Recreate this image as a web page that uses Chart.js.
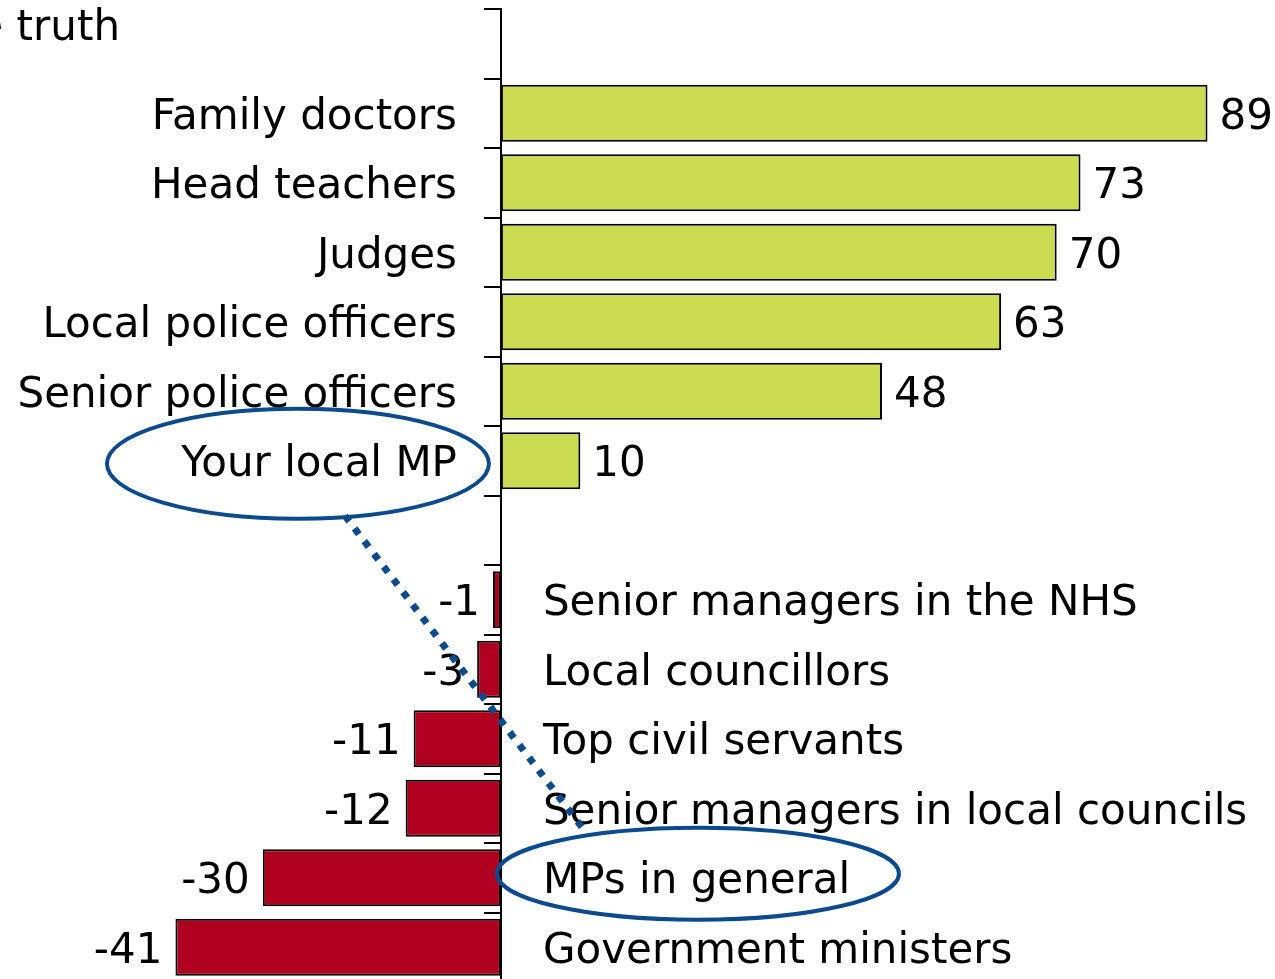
<!DOCTYPE html>
<html>
<head>
<meta charset="utf-8">
<script src="https://cdn.jsdelivr.net/npm/chart.js@4.4.0/dist/chart.umd.min.js"></script>
<style>
  html, body { margin: 0; padding: 0; background: #ffffff; overflow: hidden; }
  #wrap { width: 1275px; height: 990px; position: relative; }
</style>
</head>
<body>
<div id="wrap"><canvas id="c" width="1275" height="990"></canvas></div>
<script>
// ---- data ----
const titleText = "Trust them to tell the truth";
const categories = [
  "",
  "Family doctors",
  "Head teachers",
  "Judges",
  "Local police officers",
  "Senior police officers",
  "Your local MP",
  "",
  "Senior managers in the NHS",
  "Local councillors",
  "Top civil servants",
  "Senior managers in local councils",
  "MPs in general",
  "Government ministers"
];
const netTrust = [null, 89, 73, 70, 63, 48, 10, null, -1, -3, -11, -12, -30, -41];
const highlighted = ["Your local MP", "MPs in general"];

const GREEN = "#CBDC52";
const RED = "#B00020";
const BLUE = "#0B4A8E";
const FONT = "42px 'DejaVu Sans', Verdana, sans-serif";

const labelPlugin = {
  id: "labels",
  afterDatasetsDraw(chart) {
    const ctx = chart.ctx;
    const x = chart.scales.x, y = chart.scales.y;
    const x0 = x.getPixelForValue(0);
    ctx.save();
    ctx.font = FONT;
    ctx.fillStyle = "#000";
    ctx.textBaseline = "alphabetic";
    const cap = 15.5;
    categories.forEach((cat, i) => {
      const v = netTrust[i];
      const yc = y.getPixelForValue(i);
      if (v === null) return;
      const xe = x.getPixelForValue(v);
      if (v >= 0) {
        ctx.textAlign = "right";
        ctx.fillText(cat, x0 - 44, yc + cap);
        ctx.textAlign = "left";
        ctx.fillText(String(v), xe + 12, yc + cap);
      } else {
        ctx.textAlign = "left";
        ctx.fillText(cat, x0 + 42, yc + cap);
        ctx.textAlign = "right";
        ctx.fillText(String(v), xe - 13, yc + cap);
      }
    });
    // title (partly outside the visible area)
    ctx.textAlign = "right";
    ctx.fillText(titleText, 120, 40);
    ctx.restore();
  },
  afterDraw(chart) {
    const ctx = chart.ctx;
    const x = chart.scales.x, y = chart.scales.y;
    const x0 = x.getPixelForValue(0);
    const i1 = categories.indexOf(highlighted[0]);
    const i2 = categories.indexOf(highlighted[1]);
    const y1 = y.getPixelForValue(i1) + 3;
    const y2 = y.getPixelForValue(i2) - 4;
    const c1x = x0 - 203, c2x = x0 + 197;
    ctx.save();
    ctx.strokeStyle = BLUE;
    ctx.lineWidth = 4;
    ctx.beginPath();
    ctx.ellipse(c1x, y1, 191, 55, 0, 0, Math.PI * 2);
    ctx.stroke();
    ctx.beginPath();
    ctx.ellipse(c2x, y2, 201, 46, 0, 0, Math.PI * 2);
    ctx.stroke();
    // dotted connector
    ctx.lineWidth = 7;
    ctx.setLineDash([7, 9]);
    ctx.lineCap = "butt";
    ctx.beginPath();
    ctx.moveTo(c1x + 47, y1 + 52);
    ctx.lineTo(c2x - 111, y2 - 40);
    ctx.stroke();
    ctx.restore();
  }
};

new Chart(document.getElementById("c"), {
  type: "bar",
  data: {
    labels: categories,
    datasets: [{
      data: netTrust,
      backgroundColor: netTrust.map(v => (v !== null && v < 0) ? RED : GREEN),
      borderColor: "#000",
      borderWidth: 2,
      borderSkipped: false,
      barPercentage: 0.82,
      categoryPercentage: 1.0
    }]
  },
  options: {
    indexAxis: "y",
    responsive: false,
    animation: false,
    events: [],
    layout: { padding: { top: 9, bottom: 8, left: 0, right: 0 } },
    plugins: { legend: { display: false }, tooltip: { enabled: false } },
    scales: {
      x: { display: false, min: -63.1, max: 97.5 },
      y: {
        position: { x: 0 },
        grid: { drawOnChartArea: false, color: "#000", lineWidth: 2, tickLength: 16, tickColor: "#000" },
        border: { display: true, color: "#000", width: 2 },
        ticks: { display: true, callback: () => "", padding: 0 }
      }
    }
  },
  plugins: [labelPlugin]
});
</script>
</body>
</html>
